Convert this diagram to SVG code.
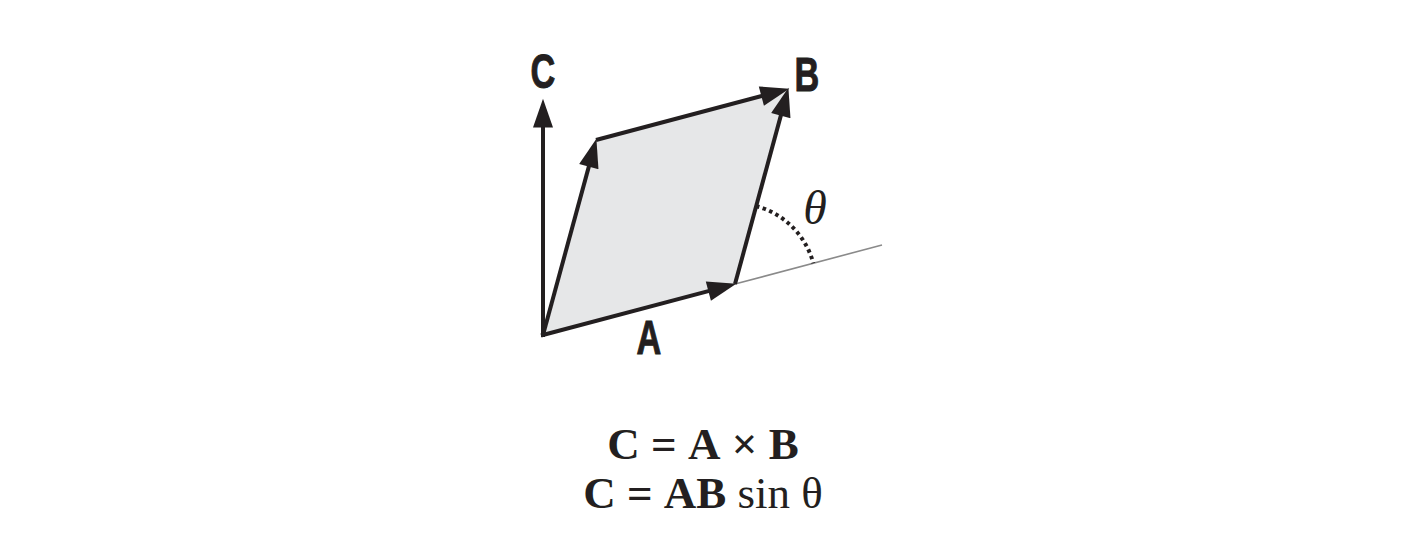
<svg xmlns="http://www.w3.org/2000/svg" width="1412" height="540" viewBox="0 0 1412 540">
<style>
.vec{stroke:#231f20;stroke-width:4;fill:none;marker-end:url(#ah)}
.lbl{font-family:"Liberation Sans",Arial,sans-serif;font-weight:bold;font-size:49px;fill:#231f20;stroke:#231f20;stroke-width:1;text-anchor:middle}
.eq{font-family:"Liberation Serif","Times New Roman",serif;font-size:45px;fill:#231f20;text-anchor:middle}
.b{font-weight:bold}
</style>
<defs>
<marker id="ah" markerUnits="userSpaceOnUse" markerWidth="30" markerHeight="20" viewBox="0 0 26 18" refX="14" refY="9" orient="auto">
<path d="M0,0 L26,9 L0,18 Z" fill="#231f20"/>
</marker>
</defs>
<rect width="1412" height="540" fill="#ffffff"/>
<g id="parallelogram">
<polygon points="543,335 735,284 788,89 596,140" fill="#e6e7e8"/>
</g>
<g id="extension">
<line x1="735" y1="284" x2="882" y2="245" stroke="#8a8a8a" stroke-width="1.6"/>
<path d="M756,206 A81,81 0 0 1 813.3,263.2" fill="none" stroke="#231f20" stroke-width="4" stroke-dasharray="3.5 3.5"/>
</g>
<g id="connectors">
<line class="vec" x1="543" y1="337" x2="543" y2="112"/>
<line class="vec" x1="541" y1="335.5" x2="723.4" y2="287.1"/>
<line class="vec" x1="543" y1="335" x2="592.9" y2="151.6"/>
<line class="vec" x1="596" y1="140" x2="776.4" y2="92.1"/>
<line class="vec" x1="735" y1="284" x2="784.9" y2="100.6"/>
</g>
<g id="label-C"><text class="lbl" transform="translate(543,88) scale(0.7,1)">C</text></g>
<g id="label-B"><text class="lbl" transform="translate(807,91) scale(0.7,1)">B</text></g>
<g id="label-A"><text class="lbl" transform="translate(649,354) scale(0.7,1)">A</text></g>
<g id="label-theta"><text x="815" y="224" font-family="'Liberation Serif','Times New Roman',serif" font-style="italic" font-size="48" fill="#231f20" text-anchor="middle">θ</text></g>
<g id="equations">
<text class="eq" x="703" y="459"><tspan class="b">C</tspan> <tspan class="b">=</tspan> <tspan class="b">A</tspan> <tspan class="b">×</tspan> <tspan class="b">B</tspan></text>
<text class="eq" x="703" y="508"><tspan class="b">C</tspan> <tspan class="b">=</tspan> <tspan class="b">AB</tspan> sin θ</text>
</g>
</svg>
